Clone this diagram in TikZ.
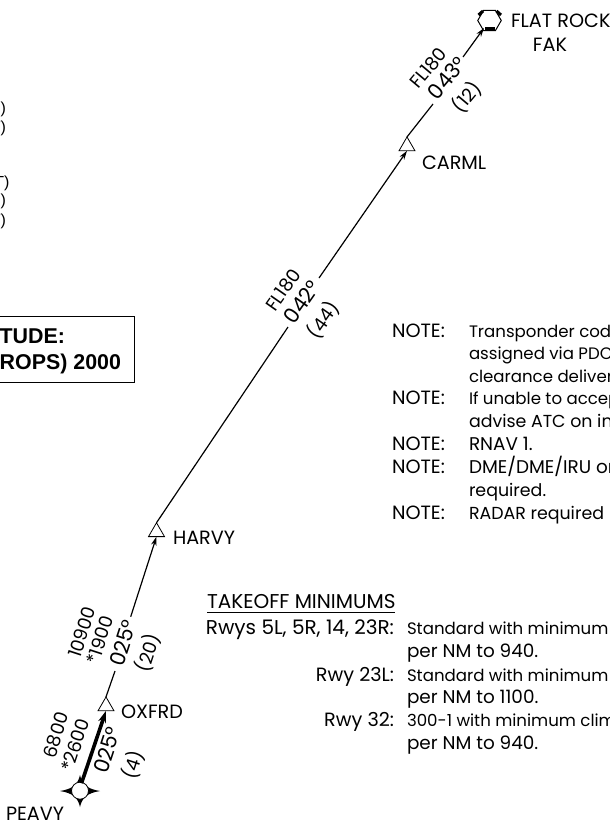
\documentclass[tikz,border=0pt]{standalone}
\usepackage{fontspec}
\setmainfont{Poppins}
\newfontfamily\boxfont{Liberation Sans}
\usetikzlibrary{shapes.geometric,arrows.meta}
\tikzset{
 x=1pt,y=-1pt,
 every node/.style={inner sep=0pt,outer sep=0pt},
 capf/.style={font=\fontsize{19.2}{22}\selectfont},
 rwyf/.style={font=\fontsize{20}{22}\selectfont},
 bodyf/.style={font=\fontsize{16.6}{20}\selectfont},
 body2f/.style={font=\fontsize{17.4}{20}\selectfont},
 midf/.style={font=\fontsize{18.4}{20}\selectfont},
 bigf/.style={font=\fontsize{21}{24}\selectfont},
 txt/.style={bodyf,anchor=base west},
 txtb/.style={body2f,anchor=base west},
 midtxt/.style={midf,anchor=base west},
 captxt/.style={capf,anchor=base west},
 capr/.style={capf,anchor=base east},
 wp/.style={draw,regular polygon,regular polygon sides=3,minimum size=18.5pt,line width=.8pt,fill=white},
 leg/.style={line width=1.2pt},
 arr/.style={leg,-{Stealth[length=9pt,width=5.5pt]}},
 rot/.style={midf,anchor=center},
 rotb/.style={bigf,anchor=center},
 frag/.style={anchor=base east,font=\boxfont\fontsize{16}{18}\selectfont},
 boxt/.style={anchor=base east,font=\boxfont\bfseries\fontsize{21.4}{24}\selectfont},
}
\begin{document}
\begin{tikzpicture}
\clip (0,0) rectangle (610,822);
\fill[white] (0,0) rectangle (610,822);
% fixes
\node[wp] (oxfrd) at (106,706.2) {};
\node[wp] (harvy) at (156.5,532) {};
\node[wp] (carml) at (407,146.2) {};
\node[draw,regular polygon,regular polygon sides=6,minimum size=23.5pt,line width=1pt] (fak) at (489.5,20.5) {};
\fill (485,27) rectangle (495,31);
\draw[line width=3pt] (478.5,15) -- (483,11) (496.5,11) -- (501,15);
% PEAVY
\fill (80,775) .. controls (82,784) and (87,789) .. (100,791)
 .. controls (87,793) and (82,798) .. (80,807)
 .. controls (78,798) and (73,793) .. (60,791)
 .. controls (73,789) and (78,784) .. (80,775) -- cycle;
\node[draw,fill=white,circle,minimum size=17pt,line width=.8pt] (peavy) at (80,790.7) {};
% connector break points
\coordinate (a1) at (115,671);
\coordinate (a2) at (130.7,616.7);
\coordinate (b1) at (288,327);
\coordinate (b2) at (319,278);
\coordinate (c1) at (433,104);
\coordinate (c2) at (463,57);
\coordinate (fakin) at (484,28);
% connectors
\draw[line width=3.6pt,-{Stealth[length=12pt,width=8pt]}] (peavy.north) ++(1.5,1) -- (oxfrd.south);
\draw[leg] (oxfrd.north) -- (a1);
\draw[arr] (a2) -- (harvy.south);
\draw[leg] (harvy.north) -- (b1);
\draw[arr] (b2) -- (carml.south);
\draw[leg] (carml.north) -- (c1);
\draw[arr] (c2) -- (fakin);
% names
\node[captxt] (npeavy) at (6,820) {PEAVY};
\node[captxt] (noxfrd) at (121,718) {OXFRD};
\node[captxt] (nharvy) at (173,544) {HARVY};
\node[captxt] (ncarml) at (422,169) {CARML};
\node[captxt] (nflat) at (511,27) {FLAT ROCK};
\node[capf,anchor=base] (nfak) at (550,51) {FAK};
% rotated labels
\node[rot,rotate=50] (l1) at (428,68) {FL180};
\node[rotb,rotate=50] (l2) at (447,78) {043°};
\node[rot,rotate=50] (l3) at (467,97) {(12)};
\node[rot,rotate=55] (l4) at (283,290) {FL180};
\node[rotb,rotate=55] (l5) at (302,302) {042°};
\node[rot,rotate=55] (l6) at (323,320) {(44)};
\node[rot,rotate=72] (l7) at (82,632) {10900};
\node[rot,rotate=72] (l8) at (100,640) {*1900};
\node[rotb,rotate=72] (l9) at (123,643) {025°};
\node[rot,rotate=72] (l10) at (148,653) {(20)};
\node[rot,rotate=72] (l11) at (56,735) {6800};
\node[rot,rotate=72] (l12) at (75,745) {*2600};
\node[rotb,rotate=72] (l13) at (107,750) {025°};
\node[rot,rotate=72] (l14) at (133,765) {(4)};
% notes
\node[captxt] (n1) at (392,337) {NOTE:};
\node[txt] (t1) at (469,337) {Transponder code};
\node[txt] (t2) at (469,359) {assigned via PDC};
\node[txt] (t3) at (469,382) {clearance delivery};
\node[captxt] (n2) at (392,404) {NOTE:};
\node[txt] (t4) at (469,404) {If unable to accept};
\node[txtb] (t5) at (469,427) {advise ATC on initial};
\node[captxt] (n3) at (392,450) {NOTE:};
\node[midtxt] (t6) at (469,450) {RNAV 1.};
\node[captxt] (n4) at (392,473) {NOTE:};
\node[midtxt] (t7) at (469,473) {DME/DME/IRU or};
\node[txtb] (t8) at (469,496) {required.};
\node[captxt] (n5) at (392,519) {NOTE:};
\node[txtb] (t9) at (469,519) {RADAR required};
% takeoff
\node[rwyf,anchor=base west] (tm) at (207,608) {TAKEOFF MINIMUMS};
\draw[line width=1pt] (207,612.7) -- (395,612.7);
\node[rwyf,anchor=base east] (r1) at (394,634) {Rwys 5L, 5R, 14, 23R:};
\node[txt] (s1) at (407,634) {Standard with minimum};
\node[midtxt] (s2) at (407,657) {per NM to 940.};
\node[capr] (r2) at (394,681) {Rwy 23L:};
\node[txt] (s3) at (407,681) {Standard with minimum};
\node[midtxt] (s4) at (407,703) {per NM to 1100.};
\node[capr] (r3) at (394,726) {Rwy 32:};
\node[txt] (s5) at (407,726) {300-1 with minimum climb};
\node[midtxt] (s6) at (407,749) {per NM to 940.};
% clipped left fragments
\node[frag] (f1) at (6,113) {2)};
\node[frag] (f2) at (6,132) {T)};
\node[frag] (f3) at (9.5,187) {T)};
\node[frag] (f4) at (6,205) {2)};
\node[frag] (f5) at (6,225) {T)};
% box
\draw[line width=.9pt] (-5,316) rectangle (134,382.5);
\node[boxt] (b1t) at (65,343) {TUDE:};
\node[boxt] (b2t) at (121,369) {ROPS) 2000};
\end{tikzpicture}
\end{document}
